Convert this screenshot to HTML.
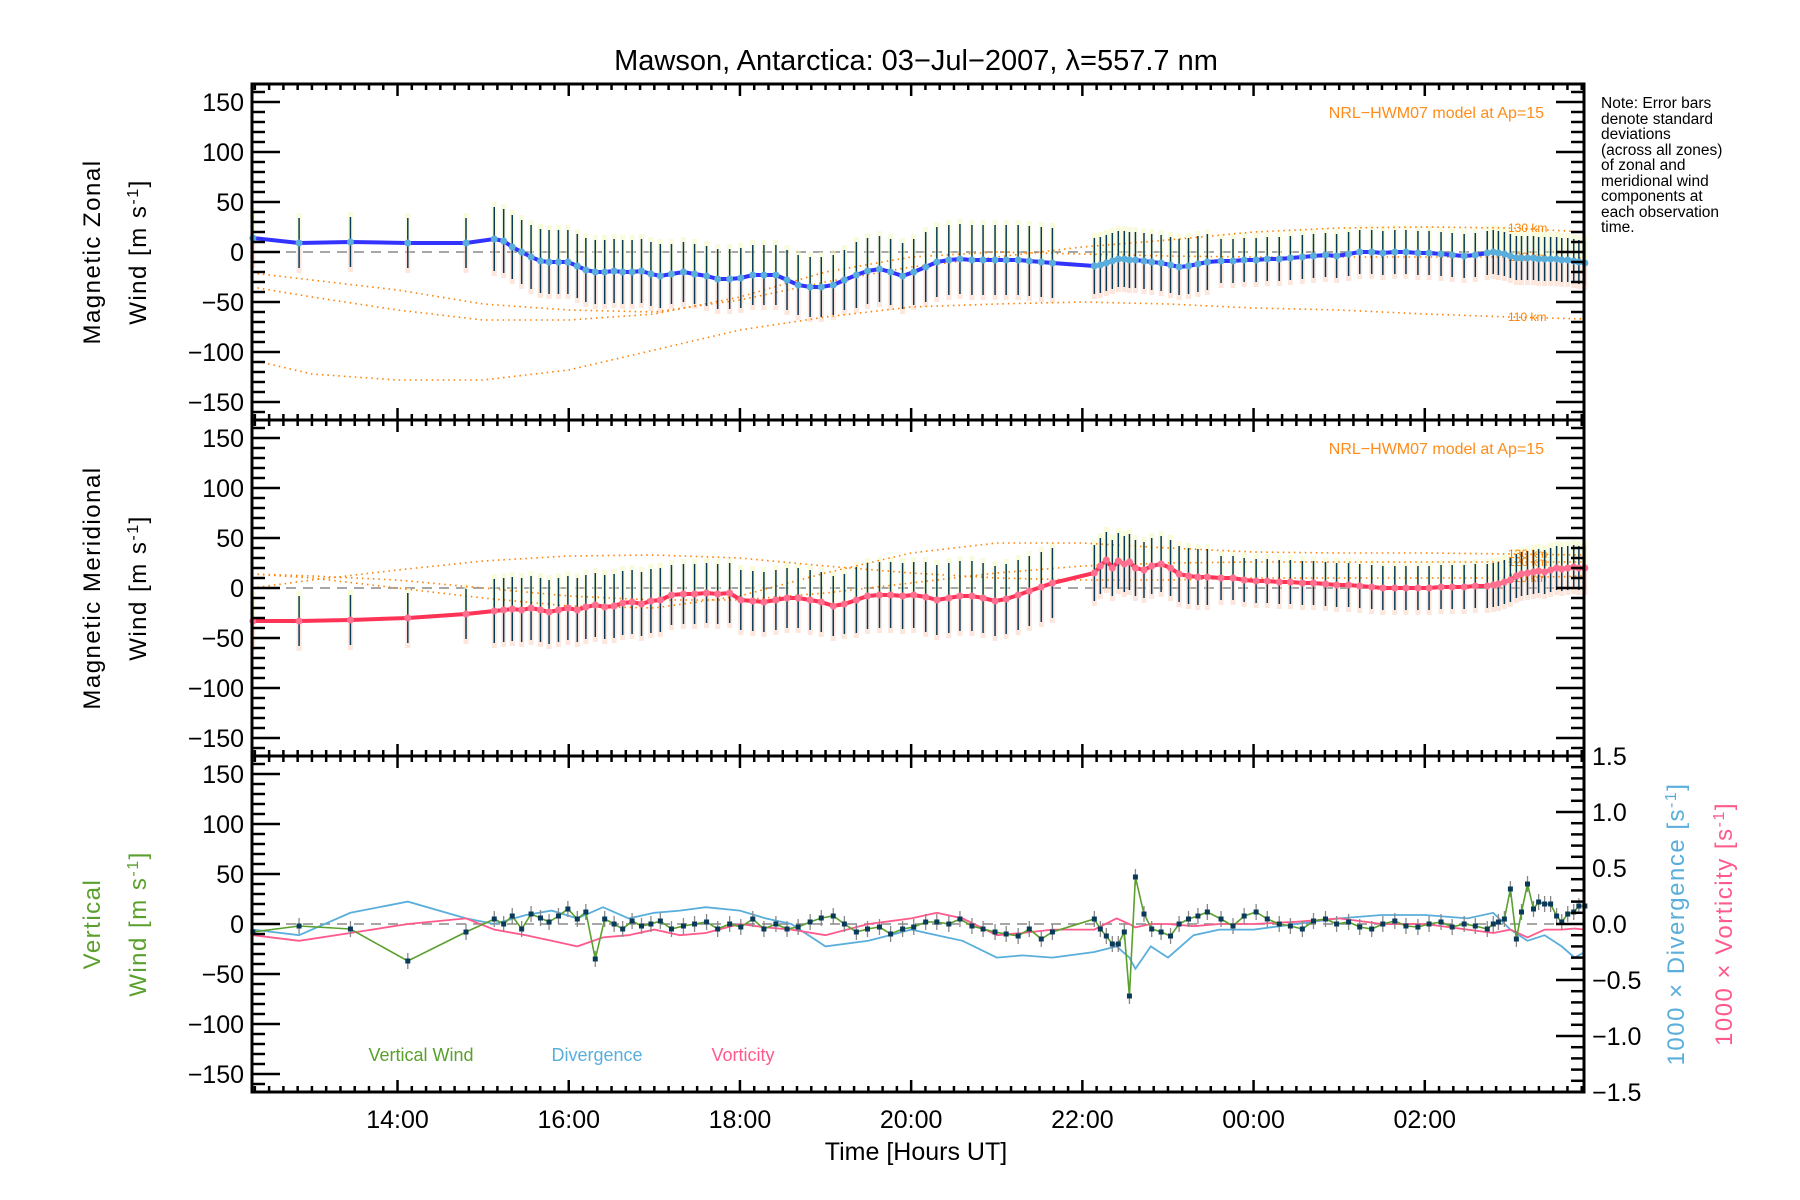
<!DOCTYPE html>
<html><head><meta charset="utf-8">
<style>
html,body{margin:0;padding:0;background:#fff;}
svg{display:block;font-family:"Liberation Sans",sans-serif;}
</style></head>
<body>
<svg id="chart" width="1800" height="1200" viewBox="0 0 1800 1200" xmlns="http://www.w3.org/2000/svg">
<rect width="1800" height="1200" fill="#fff"/>
<text x="916" y="70" font-size="29" text-anchor="middle" fill="#000">Mawson, Antarctica: 03−Jul−2007, λ=557.7 nm</text>
<g id="g-bg"></g><g id="g-model"></g><g id="g-data"></g><g id="g-axes"></g>
<text x="916" y="1160" font-size="25" text-anchor="middle">Time [Hours UT]</text>
<text transform="translate(100,252) rotate(-90)" font-size="24" text-anchor="middle" letter-spacing="1.5">Magnetic Zonal</text>
<text transform="translate(146,252) rotate(-90)" font-size="24" text-anchor="middle" letter-spacing="1.5">Wind [m s<tspan baseline-shift="super" font-size="16">-1</tspan>]</text>
<text transform="translate(100,588) rotate(-90)" font-size="24" text-anchor="middle" letter-spacing="1.5">Magnetic Meridional</text>
<text transform="translate(146,588) rotate(-90)" font-size="24" text-anchor="middle" letter-spacing="1.5">Wind [m s<tspan baseline-shift="super" font-size="16">-1</tspan>]</text>
<text transform="translate(100,924) rotate(-90)" font-size="24" text-anchor="middle" fill="#5aa02c" letter-spacing="1.5">Vertical</text>
<text transform="translate(146,924) rotate(-90)" font-size="24" text-anchor="middle" fill="#5aa02c" letter-spacing="1.5">Wind [m s<tspan baseline-shift="super" font-size="16">-1</tspan>]</text>
<text transform="translate(1684,924) rotate(-90)" font-size="24" text-anchor="middle" fill="#5aaedc" letter-spacing="1.5">1000 × Divergence [s<tspan baseline-shift="super" font-size="16">-1</tspan>]</text>
<text transform="translate(1732,924) rotate(-90)" font-size="24" text-anchor="middle" fill="#ff5a8c" letter-spacing="1.5">1000 × Vorticity [s<tspan baseline-shift="super" font-size="16">-1</tspan>]</text>
<text x="1544" y="118" font-size="16" text-anchor="end" fill="#ff8c1a">NRL−HWM07 model at Ap=15</text>
<text x="1544" y="454" font-size="16" text-anchor="end" fill="#ff8c1a">NRL−HWM07 model at Ap=15</text>
<g font-size="15.5" fill="#000">
<text x="1601" y="108">Note: Error bars</text>
<text x="1601" y="124">denote standard</text>
<text x="1601" y="139">deviations</text>
<text x="1601" y="155">(across all zones)</text>
<text x="1601" y="170">of zonal and</text>
<text x="1601" y="186">meridional wind</text>
<text x="1601" y="201">components at</text>
<text x="1601" y="217">each observation</text>
<text x="1601" y="232">time.</text>
</g>
<text x="421" y="1061" font-size="18" text-anchor="middle" fill="#5aa02c">Vertical Wind</text>
<text x="597" y="1061" font-size="18" text-anchor="middle" fill="#5aaedc">Divergence</text>
<text x="743" y="1061" font-size="18" text-anchor="middle" fill="#ff5a8c">Vorticity</text>
</svg>
<script>
const times = [12.31,12.85,13.45,14.12,14.80,15.13,15.24,15.34,15.45,15.56,15.67,15.77,15.88,15.99,16.10,16.20,16.31,16.42,16.53,16.63,16.74,16.85,16.96,17.07,17.20,17.34,17.47,17.61,17.74,17.88,18.01,18.15,18.28,18.42,18.55,18.68,18.82,18.95,19.09,19.22,19.36,19.49,19.63,19.76,19.90,20.03,20.17,20.30,20.44,20.57,20.71,20.84,20.98,21.11,21.25,21.38,21.52,21.65,22.14,22.21,22.28,22.35,22.42,22.49,22.55,22.62,22.72,22.81,22.92,23.03,23.13,23.24,23.35,23.46,23.62,23.76,23.89,24.03,24.16,24.30,24.43,24.57,24.70,24.84,24.97,25.11,25.24,25.38,25.51,25.65,25.78,25.92,26.05,26.19,26.32,26.46,26.59,26.73,26.80,26.86,26.93,27.00,27.07,27.13,27.20,27.27,27.33,27.40,27.47,27.54,27.60,27.67,27.74,27.80,27.87];
const zonal = [14,9,10,9,9,13,11,5,0,-5,-9,-10,-10,-10,-14,-18,-20,-20,-19,-20,-20,-19,-22,-24,-22,-20,-22,-24,-27,-27,-26,-23,-23,-23,-28,-33,-35,-35,-33,-28,-23,-19,-17,-20,-24,-20,-15,-10,-8,-7,-8,-8,-8,-8,-8,-9,-10,-11,-14,-13,-11,-9,-7,-7,-8,-8,-9,-10,-11,-13,-15,-14,-12,-10,-9,-9,-8,-8,-7,-7,-6,-5,-4,-3,-4,-2,0,0,-1,0,0,-1,-1,-2,-3,-4,-3,-1,0,-1,-2,-4,-6,-6,-6,-6,-7,-7,-7,-7,-8,-8,-9,-10,-11];
const meridional = [-33,-33,-32,-30,-26,-23,-22,-21,-22,-20,-22,-24,-22,-20,-22,-19,-17,-19,-18,-15,-14,-16,-13,-12,-7,-6,-6,-5,-6,-5,-12,-13,-14,-12,-10,-10,-12,-14,-18,-16,-12,-8,-7,-7,-8,-7,-9,-12,-10,-8,-8,-10,-13,-11,-7,-3,1,5,15,22,28,20,27,24,26,20,18,22,24,20,14,12,11,11,10,10,8,7,7,6,6,5,5,4,3,3,2,1,0,0,0,0,0,1,1,1,2,2,3,4,6,8,12,14,15,16,17,16,18,20,19,20,21,20,20];
const stdev = [25,25,25,25,25,32,32,32,32,32,32,32,32,32,32,32,32,32,32,32,32,32,32,32,30,30,30,30,30,30,30,30,30,30,30,30,30,30,30,30,33,33,33,33,33,33,35,35,35,35,35,35,35,35,35,35,35,35,28,28,28,28,28,28,28,28,28,28,28,28,28,28,28,28,22,22,22,22,22,22,22,22,22,22,22,22,22,22,22,22,22,22,22,22,22,22,22,22,22,22,22,22,22,22,22,22,22,22,22,22,22,22,22,22,22];
const vertical = [-8,-2,-5,-37,-8,5,0,8,-5,10,6,2,8,15,5,12,-35,5,0,-5,3,-2,0,3,-5,-2,0,2,-5,0,-3,5,-5,0,-5,-3,2,6,8,0,-8,-5,-3,-10,-5,-3,2,2,0,5,-2,-5,-8,-10,-12,-5,-15,-8,5,-5,-12,-20,-20,-8,-72,47,10,-5,-8,-12,0,5,8,12,5,-2,8,12,5,0,-2,-5,3,5,0,2,-3,-5,0,3,-2,-3,0,2,-3,0,-2,-5,0,2,5,35,-15,12,40,15,22,20,20,8,2,10,12,18,18,35,15];
const vertStd = 8;
const dvTimes = [12.31,12.85,13.45,14.12,14.80,15.13,15.5,15.8,16.1,16.4,16.7,17.0,17.3,17.6,18.0,18.3,18.6,19.0,19.5,20.0,20.3,20.6,21.0,21.3,21.65,22.14,22.4,22.55,22.62,22.8,23.0,23.3,23.6,24.0,24.5,25.0,25.5,26.0,26.5,26.8,27.0,27.2,27.4,27.6,27.75,27.87];
const divergence = [-0.05,-0.1,0.1,0.2,0.05,0.0,0.08,0.12,0.05,0.15,0.05,0.1,0.12,0.15,0.12,0.05,0.0,-0.2,-0.15,-0.05,-0.1,-0.15,-0.3,-0.28,-0.3,-0.25,-0.2,-0.3,-0.4,-0.2,-0.3,-0.1,-0.05,-0.05,0.0,0.05,0.08,0.08,0.05,0.1,-0.05,-0.15,-0.1,-0.2,-0.3,-0.25];
const vorticity = [-0.1,-0.15,-0.08,0.0,0.05,-0.05,-0.1,-0.15,-0.2,-0.12,-0.1,-0.05,-0.1,-0.08,0.0,-0.03,-0.05,-0.1,0.0,0.05,0.1,0.05,-0.1,-0.08,-0.05,-0.05,0.05,0.0,-0.03,0.0,0.0,-0.02,0.0,0.0,0.02,0.05,0.0,0.0,-0.05,-0.08,-0.05,-0.12,-0.05,-0.05,-0.04,-0.05];
const modelTimes = [12.3,13,14,15,16,17,18,19,20,21,22,23,24,25,26,27,27.87];
const zonal130 = [-21,-28,-38,-52,-58,-60,-48,-30,-15,-5,5,12,20,24,25,24,20];
const zonal120 = [-35,-45,-58,-68,-68,-62,-45,-20,-5,0,-2,-4,-5,-5,-5,-5,-6];
const zonal110 = [-108,-122,-128,-128,-118,-98,-78,-65,-55,-52,-50,-52,-56,-58,-62,-65,-67];
const merid130 = [14,10,0,-10,-18,-20,-8,15,35,45,45,40,36,35,35,34,33];
const merid120 = [14,12,8,0,-8,-12,-12,-5,5,15,22,25,26,26,26,26,26];
const merid110 = [0,8,18,27,32,33,30,22,15,10,8,8,10,10,10,10,12];
const xTickLabels = ["14:00","16:00","18:00","20:00","22:00","00:00","02:00"];
const xTickHours = [14,16,18,20,22,24,26];
const yTickLabels = ["150","100","50","0","−50","−100","−150"];
const yTickValues = [150,100,50,0,-50,-100,-150];
const rTickLabels = ["1.5","1.0","0.5","0.0","−0.5","−1.0","−1.5"];
const rTickValues = [1.5,1.0,0.5,0,-0.5,-1.0,-1.5];

const NS="http://www.w3.org/2000/svg";
const X0=252,X1=1584,H0=12.30,H1=27.86;
const panels=[{top:84,bot:420},{top:420,bot:756},{top:756,bot:1092}];
const xs=h=>X0+(h-H0)/(H1-H0)*(X1-X0);
const ys=(p,v)=>(panels[p].top+panels[p].bot)/2 - v*((panels[p].bot-panels[p].top)/2)/168;
const yr=v=>(panels[2].top+panels[2].bot)/2 - v*112;
function mk(tag,attrs,parent){const e=document.createElementNS(NS,tag);for(const k in attrs)e.setAttribute(k,attrs[k]);parent.appendChild(e);return e;}
const gBg=document.getElementById('g-bg'),gM=document.getElementById('g-model'),gD=document.getElementById('g-data'),gA=document.getElementById('g-axes');
function path(arrX,arrY,fx,fy){return arrX.map((t,i)=>(i?'L':'M')+fx(t).toFixed(1)+','+fy(arrY[i]).toFixed(1)).join(' ');}

panels.forEach((p,pi)=>{
  const r=mk('rect',{x:X0,y:p.top,width:X1-X0,height:p.bot-p.top,fill:'none',stroke:'#000','stroke-width':3},gA);
  
  
  const z=mk('line',{x1:X0,x2:X1,y1:ys(pi,0),y2:ys(pi,0),stroke:'#888','stroke-width':1.5,'stroke-dasharray':'10,7'},gBg);
  
  
  for(let m=0;m<=Math.round((H1-H0)*6)+2;m++){
    const h=12+m/6; if(h<H0||h>H1)continue;
    const major=Math.abs(h-Math.round(h))<1e-6 && Math.round(h)%2===0;
    const L=major?12:6; const x=xs(h);
    mk('line',{x1:x,x2:x,y1:p.bot,y2:p.bot-L,stroke:'#000','stroke-width':2.5},gA);
    mk('line',{x1:x,x2:x,y1:p.top,y2:p.top+L,stroke:'#000','stroke-width':2.5},gA);
  }
  for(let v=-160;v<=160;v+=10){
    const major=v%50===0; const L=major?28:13; const y=ys(pi,v);
    mk('line',{x1:X0,x2:X0+L,y1:y,y2:y,stroke:'#000','stroke-width':2.5},gA);
    if(pi<2) mk('line',{x1:X1,x2:X1-L,y1:y,y2:y,stroke:'#000','stroke-width':2.5},gA);
  }
  yTickValues.forEach((v,i)=>{
    const t=mk('text',{x:X0-8,y:ys(pi,v)+9,'font-size':25,'text-anchor':'end'},gA);
    t.textContent=yTickLabels[i];
    
    
  });
});
for(let v=-1.5;v<=1.5001;v+=0.1){
  const major=Math.abs(v*2-Math.round(v*2))<1e-6; const L=major?28:13; const y=yr(v);
  mk('line',{x1:X1,x2:X1-L,y1:y,y2:y,stroke:'#000','stroke-width':2.5},gA);
}
rTickValues.forEach((v,i)=>{
  const t=mk('text',{x:X1+8,y:yr(v)+9,'font-size':25},gA);
  t.textContent=rTickLabels[i];
  
  
});
xTickHours.forEach((h,i)=>{
  const t=mk('text',{x:xs(h),y:1128,'font-size':25,'text-anchor':'middle'},gA);
  t.textContent=xTickLabels[i];
  
  
});

[[0,zonal130],[0,zonal120],[0,zonal110],[1,merid130],[1,merid120],[1,merid110]].forEach(([pi,arr])=>{
  const e=mk('path',{d:path(modelTimes,arr,xs,v=>ys(pi,v)),fill:'none',stroke:'#ff8000','stroke-width':1.6,'stroke-dasharray':'1.5,4'},gM);
  
  
});
[[0,zonal130,'130 km'],[0,zonal120,'120 km'],[0,zonal110,'110 km'],[1,merid130,'130 km'],[1,merid120,'120 km'],[1,merid110,'110 km']].forEach(([pi,arr,lab])=>{
  const t=mk('text',{x:1508,y:ys(pi,arr[arr.length-2])+4,'font-size':12,fill:'#ff8000'},gM);
  t.textContent=lab;
  
  
});

[[0,zonal,'#3333ff'],[1,meridional,'#ff3355']].forEach(([pi,arr,col])=>{
  times.forEach((t,i)=>{
    const x=xs(t),v=arr[i],s=stdev[i];
    const a=mk('rect',{x:x-2.5,y:ys(pi,v+s+5),width:5,height:ys(pi,v)-ys(pi,v+s+5),fill:'#f3f7c0',opacity:0.55},gBg);
    
    
    const b=mk('rect',{x:x-2.5,y:ys(pi,v),width:5,height:ys(pi,v-s-5)-ys(pi,v),fill:'#fcd0bc',opacity:0.5},gBg);
    
    
    const e=mk('line',{x1:x,x2:x,y1:ys(pi,v+s),y2:ys(pi,v-s),stroke:'#0a3a5a','stroke-width':1.5},gD);
    
    
  });
  const ln=mk('path',{d:path(times,arr,xs,v=>ys(pi,v)),fill:'none',stroke:col,'stroke-width':4},gD);
  
  
  times.forEach((t,i)=>{
    const c=mk('circle',{cx:xs(t),cy:ys(pi,arr[i]),r:3.5,fill:pi?'#ff7090':'#5aaedc'},gD);
    
    
  });
});

const dv=mk('path',{d:path(dvTimes,divergence,xs,yr),fill:'none',stroke:'#5aaedc','stroke-width':1.8},gD);


const vo=mk('path',{d:path(dvTimes,vorticity,xs,yr),fill:'none',stroke:'#ff5a8c','stroke-width':1.8},gD);


times.forEach((t,i)=>{
  const e=mk('line',{x1:xs(t),x2:xs(t),y1:ys(2,vertical[i]+vertStd),y2:ys(2,vertical[i]-vertStd),stroke:'#888','stroke-width':1.3},gD);
  
  
});
const vw=mk('path',{d:path(times,vertical,xs,v=>ys(2,v)),fill:'none',stroke:'#5aa02c','stroke-width':1.6},gD);


times.forEach((t,i)=>{
  const r=mk('rect',{x:xs(t)-2.5,y:ys(2,vertical[i])-2.5,width:5,height:5,fill:'#0a3a5a'},gD);
  
  
});
</script>
</body></html>
